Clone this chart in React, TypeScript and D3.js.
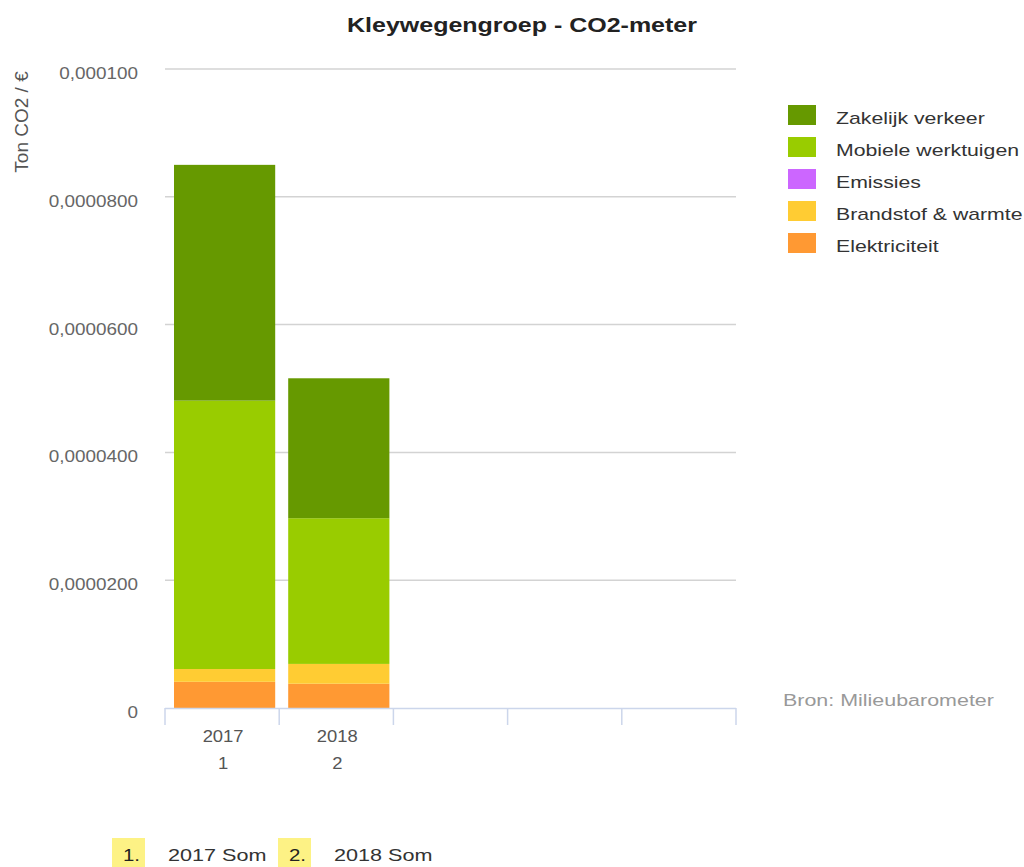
import React, { useEffect, useRef } from "react";
import * as d3 from "d3";

const categories = ["2017", "2018", "", "", ""];
const categoryIndex = ["1", "2", "", "", ""];
const seriesNames = [
  "Elektriciteit",
  "Brandstof & warmte",
  "Emissies",
  "Mobiele werktuigen",
  "Zakelijk verkeer",
];
const seriesColors = ["#ff9933", "#ffcc33", "#cc66ff", "#99cc00", "#669900"];
// values per series, per category (ton CO2 / €)
const elektriciteit = [0.0000041, 0.0000038];
const brandstof = [0.000002, 0.0000031];
const emissies = [0, 0];
const mobiele = [0.000042, 0.0000228];
const zakelijk = [0.0000369, 0.0000219];
const yTicks = [0, 0.00002, 0.00004, 0.00006, 0.00008, 0.0001];
const yTickLabels = ["0", "0,0000200", "0,0000400", "0,0000600", "0,0000800", "0,000100"];
const bottomLegend = ["2017 Som", "2018 Som"];

const W = 1024;
const H = 867;
const FONT = "'Liberation Sans', Arial, sans-serif";

// text that is a bit wider than the font, like the original screenshot
const addText = (parent: any, x: number, y: number, txt: string, size: number, fill: string, opts: any = {}) => {
  const t = parent.append("text")
    .attr("transform", `translate(${x},${y}) scale(${opts.sx ?? 1.22},1)`)
    .attr("font-family", FONT)
    .attr("font-size", size)
    .attr("fill", fill)
    .attr("text-anchor", opts.anchor ?? "start")
    .text(txt);
  if (opts.bold) t.attr("font-weight", "bold");
  return t;
};

const App = () => {
  const ref = useRef<SVGSVGElement>(null);

  useEffect(() => {
    const svg = d3.select(ref.current);
    svg.selectAll("*").remove();

    const left = 165;
    const right = 736;
    const top = 69;
    const bottom = 708;

    const x = d3.scaleBand().domain(d3.range(categories.length).map(String)).range([left, right]);
    const y = d3.scaleLinear().domain([0, 0.0001]).range([bottom, top]);

    // title
    addText(svg, 522, 32, "Kleywegengroep - CO2-meter", 20, "#222", { anchor: "middle", bold: true, sx: 1.25 });

    // y axis title
    svg.append("text")
      .attr("transform", `translate(28,122) rotate(-90)`)
      .attr("text-anchor", "middle")
      .attr("font-family", FONT).attr("font-size", 19).attr("fill", "#555")
      .text("Ton CO2 / €");

    // gridlines
    svg.append("g").selectAll("line").data(yTicks.slice(1)).join("line")
      .attr("x1", left).attr("x2", right)
      .attr("y1", (d) => y(d)).attr("y2", (d) => y(d))
      .attr("stroke", "#d3d3d3").attr("stroke-width", 1.5);

    // y labels
    const yl = svg.append("g");
    yTicks.forEach((d, i) => addText(yl, 138, y(d) + 10, yTickLabels[i], 16, "#666", { anchor: "end", sx: 1.18 }));

    // stacked bars
    const table = [0, 1].map((i) => ({
      cat: String(i),
      Elektriciteit: elektriciteit[i],
      "Brandstof & warmte": brandstof[i],
      Emissies: emissies[i],
      "Mobiele werktuigen": mobiele[i],
      "Zakelijk verkeer": zakelijk[i],
    }));
    const stacked = d3.stack<any>().keys(seriesNames)(table);
    stacked.forEach((layer, si) => {
      svg.append("g").selectAll("rect").data(layer).join("rect")
        .attr("x", (d) => (x(d.data.cat) as number) + 9)
        .attr("width", x.bandwidth() - 13)
        .attr("y", (d) => y(d[1]))
        .attr("height", (d) => Math.max(0, y(d[0]) - y(d[1])))
        .attr("fill", seriesColors[si]);
    });

    // x axis
    const axis = svg.append("g");
    axis.append("line")
      .attr("x1", left).attr("x2", right)
      .attr("y1", bottom + 0.5).attr("y2", bottom + 0.5)
      .attr("stroke", "#ccd6eb").attr("stroke-width", 1.5);
    const bounds = d3.range(categories.length + 1).map((i) => left + i * x.step());
    axis.selectAll("line.tick").data(bounds).join("line")
      .attr("class", "tick")
      .attr("x1", (d) => d).attr("x2", (d) => d)
      .attr("y1", bottom).attr("y2", bottom + 17)
      .attr("stroke", "#ccd6eb").attr("stroke-width", 1.5);
    categories.forEach((c, i) => {
      if (!c) return;
      const cx = (x(String(i)) as number) + x.bandwidth() / 2 + 1;
      addText(axis, cx, 742, c, 16, "#555", { anchor: "middle", sx: 1.15 });
      addText(axis, cx, 769, categoryIndex[i], 16, "#555", { anchor: "middle", sx: 1.15 });
    });

    // legend (reverse order)
    const legendNames = seriesNames.slice().reverse();
    const legendColors = seriesColors.slice().reverse();
    const lg = svg.append("g").attr("transform", "translate(788,105)");
    legendNames.forEach((n, i) => {
      const yy = i * 32;
      lg.append("rect").attr("x", 0).attr("y", yy).attr("width", 28).attr("height", 20)
        .attr("fill", legendColors[i]);
      addText(lg, 48, yy + 19, n, 17, "#333", { sx: 1.25 });
    });

    // source
    addText(svg, 783, 706, "Bron: Milieubarometer", 16.5, "#999", { sx: 1.3 });

    // bottom legend
    const bx = [112, 278];
    bottomLegend.forEach((t, i) => {
      svg.append("rect").attr("x", bx[i]).attr("y", 838).attr("width", 33).attr("height", 29)
        .attr("fill", "#fdf285");
      addText(svg, bx[i] + 11, 861, `${i + 1}.`, 17, "#222", { sx: 1.2 });
      addText(svg, bx[i] + 56, 861, t, 17, "#333", { sx: 1.27 });
    });
  }, []);

  return (
    <svg
      ref={ref}
      width={W}
      height={H}
      style={{ position: "absolute", left: 0, top: 0, background: "#fff" }}
    />
  );
};

export default App;
